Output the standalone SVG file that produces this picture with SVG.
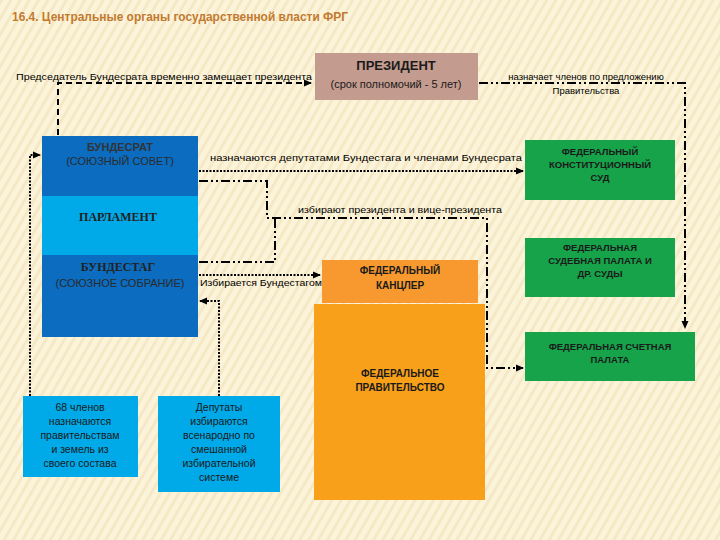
<svg xmlns="http://www.w3.org/2000/svg" width="720" height="540" viewBox="0 0 720 540">
<defs>
<pattern id="bg" width="8" height="8" patternUnits="userSpaceOnUse" patternTransform="rotate(30)">
<rect width="8" height="8" fill="#fcf4da"/>
<rect width="3" height="8" fill="#f5e8c4"/>
</pattern>
<marker id="ah" markerWidth="8" markerHeight="8" refX="7" refY="4" orient="auto" markerUnits="userSpaceOnUse">
<path d="M0,0.5 L8,4 L0,7.5 Z" fill="#000"/>
</marker>
<style>
.lbl{font-family:"Liberation Sans",Arial,sans-serif;font-size:9.5px;fill:#000}
.bx{font-family:"Liberation Sans",Arial,sans-serif;font-weight:bold;font-size:10px;fill:#1a1a1a;text-anchor:middle}
.bl{font-family:"Liberation Sans",Arial,sans-serif;font-size:11px;fill:#2a2a2a;text-anchor:middle}
.sr{font-family:"Liberation Serif","Times New Roman",serif;font-weight:bold;font-size:12px;fill:#222;text-anchor:middle}
.dash{fill:none;stroke:#000;stroke-width:2;stroke-dasharray:6 4}
.dot{fill:none;stroke:#000;stroke-width:2;stroke-dasharray:2 1.5}
.dd{fill:none;stroke:#000;stroke-width:2;stroke-dasharray:9 3 2 3 2 3}
.green{fill:#16a34a}
</style>
</defs>
<rect width="720" height="540" fill="url(#bg)"/>
<text x="12" y="21" font-family="Liberation Sans,Arial,sans-serif" font-weight="bold" font-size="13" fill="#c27a30" textLength="336" lengthAdjust="spacingAndGlyphs">16.4. Центральные органы государственной власти ФРГ</text>

<g id="connectors">
<path class="dash" d="M58,135 V83 H311" marker-end="url(#ah)"/>
<path class="dd" d="M479,83 H685 V328" marker-end="url(#ah)"/>
<path class="dot" d="M199,171 H523" marker-end="url(#ah)"/>
<path class="dd" d="M199,181 H267 V218 H487 V368 H523" marker-end="url(#ah)"/>
<path class="dd" d="M199,262 H275 V219"/>
<path class="dot" d="M199,275 H320" marker-end="url(#ah)"/>
<path class="dot" d="M30,396 V155 H40" marker-end="url(#ah)"/>
<path class="dot" d="M219,396 V301 H200" marker-end="url(#ah)"/>
<text class="lbl" x="16" y="80" textLength="296" lengthAdjust="spacingAndGlyphs">Председатель Бундесрата временно замещает  президента</text>
<text class="lbl" x="586" y="80" text-anchor="middle">назначает членов по предложению</text>
<text class="lbl" x="586" y="94" text-anchor="middle">Правительства</text>
<text class="lbl" x="210" y="161" textLength="312" lengthAdjust="spacingAndGlyphs">назначаются депутатами Бундестага и членами Бундесрата</text>
<text class="lbl" x="298" y="213" textLength="204" lengthAdjust="spacingAndGlyphs">избирают президента и вице-президента</text>
<text class="lbl" x="200" y="286" textLength="122" lengthAdjust="spacingAndGlyphs">Избирается Бундестагом</text>
</g>

<g id="president">
<rect x="315" y="53" width="163" height="47" fill="#c49b8f"/>
<text x="396" y="70" font-family="Liberation Sans,Arial,sans-serif" font-weight="bold" font-size="13" fill="#1a1a1a" text-anchor="middle">ПРЕЗИДЕНТ</text>
<text x="396" y="88" font-family="Liberation Sans,Arial,sans-serif" font-size="11" fill="#1a1a1a" text-anchor="middle">(срок полномочий - 5 лет)</text>
</g>

<g id="bundesrat">
<rect x="42" y="136" width="156" height="60" fill="#0b6cc0"/>
<text class="bx" x="120" y="151" style="font-size:11px;fill:#333">БУНДЕСРАТ</text>
<text class="bl" x="120" y="165">(СОЮЗНЫЙ СОВЕТ)</text>
</g>
<g id="parliament">
<rect x="42" y="196" width="156" height="59" fill="#00a9e8"/>
<text class="sr" x="118" y="221">ПАРЛАМЕНТ</text>
</g>
<g id="bundestag">
<rect x="42" y="255" width="156" height="82" fill="#0b6cc0"/>
<text class="sr" x="118" y="271">БУНДЕСТАГ</text>
<text class="bl" x="120" y="287">(СОЮЗНОЕ СОБРАНИЕ)</text>
</g>

<g id="chancellor">
<rect x="322" y="260" width="156" height="43" fill="#f7992e"/>
<text class="bx" x="400" y="274">ФЕДЕРАЛЬНЫЙ</text>
<text class="bx" x="400" y="289">КАНЦЛЕР</text>
</g>
<g id="government">
<rect x="314" y="304" width="171" height="196" fill="#f9a01b"/>
<text class="bx" x="400" y="377">ФЕДЕРАЛЬНОЕ</text>
<text class="bx" x="400" y="391">ПРАВИТЕЛЬСТВО</text>
</g>

<g id="constcourt">
<rect class="green" x="525" y="140" width="150" height="60"/>
<text class="bx" x="600" y="155" style="font-size:9.5px">ФЕДЕРАЛЬНЫЙ</text>
<text class="bx" x="600" y="168" style="font-size:9.5px">КОНСТИТУЦИОННЫЙ</text>
<text class="bx" x="600" y="181" style="font-size:9.5px">СУД</text>
</g>
<g id="judicial">
<rect class="green" x="525" y="238" width="150" height="59"/>
<text class="bx" x="600" y="251" style="font-size:9.5px">ФЕДЕРАЛЬНАЯ</text>
<text class="bx" x="600" y="264" style="font-size:9.5px">СУДЕБНАЯ ПАЛАТА И</text>
<text class="bx" x="600" y="277" style="font-size:9.5px">ДР. СУДЫ</text>
</g>
<g id="audit">
<rect class="green" x="525" y="332" width="170" height="49"/>
<text class="bx" x="610" y="350" style="font-size:9.5px">ФЕДЕРАЛЬНАЯ СЧЕТНАЯ</text>
<text class="bx" x="610" y="363" style="font-size:9.5px">ПАЛАТА</text>
</g>

<g id="members68">
<rect x="23" y="396" width="115" height="81" fill="#00a9e8"/>
<text class="bx" x="80" y="411" style="font-weight:normal;font-size:10.5px">68 членов</text>
<text class="bx" x="80" y="425" style="font-weight:normal;font-size:10.5px">назначаются</text>
<text class="bx" x="80" y="439" style="font-weight:normal;font-size:10.5px">правительствам</text>
<text class="bx" x="80" y="453" style="font-weight:normal;font-size:10.5px">и земель из</text>
<text class="bx" x="80" y="467" style="font-weight:normal;font-size:10.5px">своего состава</text>
</g>
<g id="deputies">
<rect x="158" y="396" width="122" height="96" fill="#00a9e8"/>
<text class="bx" x="219" y="411" style="font-weight:normal;font-size:10.5px">Депутаты</text>
<text class="bx" x="219" y="425" style="font-weight:normal;font-size:10.5px">избираются</text>
<text class="bx" x="219" y="439" style="font-weight:normal;font-size:10.5px">всенародно по</text>
<text class="bx" x="219" y="453" style="font-weight:normal;font-size:10.5px">смешанной</text>
<text class="bx" x="219" y="467" style="font-weight:normal;font-size:10.5px">избирательной</text>
<text class="bx" x="219" y="481" style="font-weight:normal;font-size:10.5px">системе</text>
</g>
</svg>
